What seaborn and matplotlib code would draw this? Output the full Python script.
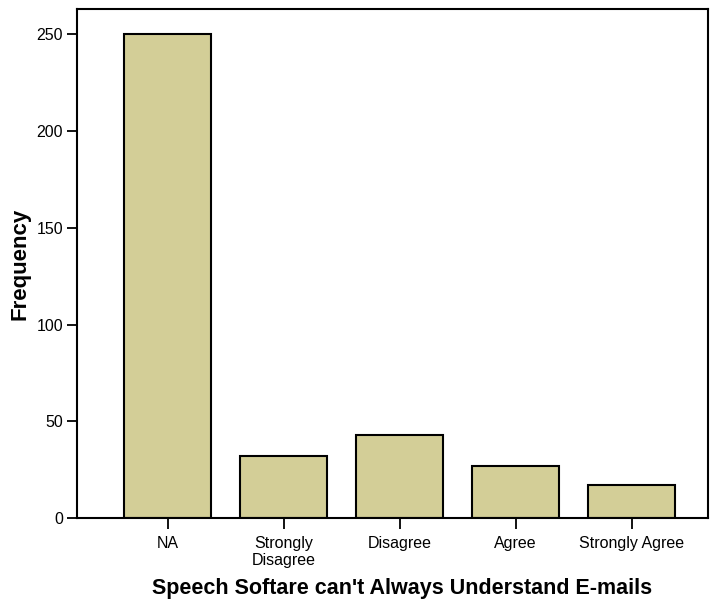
import pandas as pd
import seaborn as sns
import matplotlib.pyplot as plt

# dati
categories = ["NA", "Strongly\nDisagree", "Disagree", "Agree", "Strongly Agree"]
frequency = [250, 32, 43, 27, 17]

df = pd.DataFrame({"category": categories, "frequency": frequency})

sns.set_style("white")
plt.rcParams["font.family"] = ["Liberation Sans", "DejaVu Sans"]
plt.rcParams["text.color"] = "black"
plt.rcParams["axes.labelcolor"] = "black"
plt.rcParams["xtick.color"] = "black"
plt.rcParams["ytick.color"] = "black"

fig = plt.figure(figsize=(7.12, 6.01), dpi=100)
ax = fig.add_axes([0.108, 0.138, 0.886, 0.847])

sns.barplot(data=df, x="category", y="frequency", color="#d3ce97",
            saturation=1, width=0.75, edgecolor="black", linewidth=1.5, ax=ax)

ax.set_xlim(-0.784, 4.655)
ax.set_ylim(0, 263)
ax.set_yticks([0, 50, 100, 150, 200, 250])

for s in ax.spines.values():
    s.set_visible(True)
    s.set_color("black")
    s.set_linewidth(1.5)

ax.tick_params(axis="y", direction="out", length=7, width=1.3,
               labelsize=11.5, left=True, pad=3)
ax.tick_params(axis="x", direction="out", length=8, width=1.3,
               labelsize=11.5, bottom=True, pad=5)
plt.setp(ax.get_xticklabels(), linespacing=1.15)

ax.set_xlabel("Speech Softare can't Always Understand E-mails",
              fontsize=15.5, fontweight="bold")
ax.xaxis.set_label_coords(0.515, -0.117)
ax.set_ylabel("Frequency", fontsize=16, fontweight="bold", labelpad=4)

fig.savefig("out.png", dpi=100)
plt.close(fig)
